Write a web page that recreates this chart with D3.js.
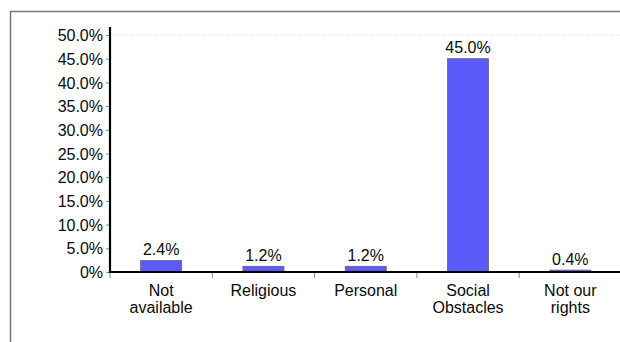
<!DOCTYPE html>
<html><head><meta charset="utf-8">
<script src="https://cdn.jsdelivr.net/npm/d3@7"></script>
<style>html,body{margin:0;padding:0;background:#fff;}svg{display:block;}</style>
</head><body>
<svg id="chart" width="620" height="342"></svg>
<script>
const categories = [["Not","available"],["Religious"],["Personal"],["Social","Obstacles"],["Not our","rights"]];
const values = [2.4, 1.2, 1.2, 45.0, 0.4];
const yTicks = [0,5,10,15,20,25,30,35,40,45,50];

const svg = d3.select("#chart");
const font = "Liberation Sans, Arial, sans-serif";
const fs = 16;

// frame
svg.append("line").attr("x1",10).attr("x2",620).attr("y1",11.5).attr("y2",11.5).attr("stroke","#777").attr("stroke-width",1.5);
svg.append("line").attr("x1",10.5).attr("x2",10.5).attr("y1",11).attr("y2",342).attr("stroke","#777").attr("stroke-width",1.5);

const x = d3.scaleBand().domain(d3.range(categories.length)).range([110, 621.5]).paddingInner(0).paddingOuter(0);
const y = d3.scaleLinear().domain([0,50]).range([272,35]);
const barW = 41;

// gridline at 50%
svg.append("line").attr("x1",112).attr("x2",620).attr("y1",y(50)).attr("y2",y(50))
  .attr("stroke","#ececec").attr("stroke-width",1).attr("stroke-dasharray","4,2");

// y axis
const yAxis = d3.axisLeft(y).tickValues(yTicks).tickSize(4).tickPadding(3)
  .tickFormat(d => d===0 ? "0%" : d.toFixed(1)+"%");
const gy = svg.append("g").attr("transform","translate(110,0)").call(yAxis);
gy.select(".domain").remove();
gy.selectAll(".tick line").attr("stroke","#888");
gy.selectAll(".tick text").attr("font-family",font).attr("font-size",fs).attr("fill","#0a0a0a").attr("dy","0.35em");
svg.append("line").attr("x1",110).attr("x2",110).attr("y1",27).attr("y2",273).attr("stroke","#000").attr("stroke-width",2.2);

// bars
svg.selectAll("rect.bar").data(values).enter().append("rect").attr("class","bar")
  .attr("x",(d,i)=>x(i)+x.bandwidth()/2-barW/2)
  .attr("y",d=>y(d))
  .attr("width",barW)
  .attr("height",d=>y(0)-y(d))
  .attr("fill","#5b5bfb").attr("stroke","#60607a").attr("stroke-width",0.8);

// value labels
const lab = svg.selectAll("g.vl").data(values).enter().append("g").attr("class","vl");
lab.append("rect")
  .attr("x",(d,i)=>x(i)+x.bandwidth()/2-40)
  .attr("y",d=>y(d)-21).attr("width",80).attr("height",17).attr("fill","#fff");
lab.append("text")
  .attr("x",(d,i)=>x(i)+x.bandwidth()/2)
  .attr("y",d=>y(d)-5.5)
  .attr("text-anchor","middle").attr("font-family",font).attr("font-size",fs).attr("fill","#0a0a0a")
  .text(d=>d.toFixed(1)+"%");

// x axis
svg.append("line").attr("x1",110).attr("x2",620).attr("y1",272).attr("y2",272).attr("stroke","#000").attr("stroke-width",2.2);
const bounds = x.domain().map(i=>x(i)).concat([x(categories.length-1)+x.bandwidth()]);
svg.selectAll("line.xt").data(bounds).enter().append("line").attr("class","xt")
  .attr("x1",d=>d).attr("x2",d=>d).attr("y1",273).attr("y2",278).attr("stroke","#888");

const xl = svg.selectAll("text.xl").data(categories).enter().append("text").attr("class","xl")
  .attr("text-anchor","middle").attr("font-family",font).attr("font-size",fs).attr("fill","#0a0a0a");
xl.selectAll("tspan").data((d,i)=>d.map(s=>({s,i}))).enter().append("tspan")
  .attr("x",d=>x(d.i)+x.bandwidth()/2)
  .attr("y",(d,j)=>296+j*17)
  .text(d=>d.s);
</script>
</body></html>
